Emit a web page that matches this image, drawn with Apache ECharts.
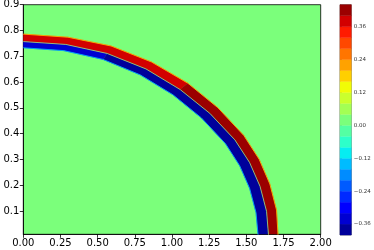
<!DOCTYPE html>
<html><head><meta charset="utf-8">
<script src="https://cdn.jsdelivr.net/npm/echarts@6/dist/echarts.min.js"></script>
<style>html,body{margin:0;padding:0;background:#fff}#c{width:374px;height:250px}</style>
</head><body><div id="c"></div>
<script>
// contour levels (filled bands between consecutive levels)
const levels = [-0.40,-0.36,-0.32,-0.28,-0.24,-0.20,-0.16,-0.12,-0.08,-0.04,0.00,0.04,0.08,0.12,0.16,0.20,0.24,0.28,0.32,0.36,0.40,0.44];
const yTicks = [0.1,0.2,0.3,0.4,0.5,0.6,0.7,0.8,0.9];
const cbarTicks = [-0.36,-0.24,-0.12,0.00,0.12,0.24,0.36];
const backgroundValue = 0.0;
// band edges, [x, y]
const outerEdge = [[0,0.786],[0.300,0.774],[0.590,0.740],[0.862,0.678],[1.106,0.596],[1.308,0.501],[1.483,0.393],[1.586,0.301],[1.658,0.205],[1.703,0.104],[1.714,0.0]];
const midEdge   = [[0,0.757],[0.286,0.746],[0.564,0.711],[0.825,0.651],[1.055,0.571],[1.254,0.479],[1.423,0.376],[1.522,0.288],[1.592,0.196],[1.636,0.099],[1.650,0.0]];
const innerEdge = [[0,0.733],[0.271,0.722],[0.536,0.688],[0.786,0.628],[1.006,0.551],[1.198,0.461],[1.360,0.361],[1.455,0.276],[1.522,0.188],[1.565,0.094],[1.580,0.0]];
// [from index, to index, field value]
const redSegments  = [[0,4,0.38],[4,10,0.42]];
const blueSegments = [[0,2,-0.34],[2,10,-0.38]];

const jetR=[[0,0],[0.35,0],[0.66,1],[0.89,1],[1,0.5]];
const jetG=[[0,0],[0.125,0],[0.375,1],[0.64,1],[0.91,0],[1,0]];
const jetB=[[0,0.5],[0.11,1],[0.34,1],[0.65,0],[1,0]];
function pw(p,t){for(let k=1;k<p.length;k++){if(t<=p[k][0]){const a=p[k-1],b=p[k];return a[1]+(b[1]-a[1])*(t-a[0])/(b[0]-a[0]);}}return p[p.length-1][1];}
function jet(t){return 'rgb('+[jetR,jetG,jetB].map(p=>Math.round(255*pw(p,t))).join(',')+')';}
const nb = levels.length-1;
function bandIndex(v){for(let i=0;i<nb;i++){if(v>=levels[i]-1e-9&&v<levels[i+1]-1e-9)return i;}return nb-1;}
function levelColor(v){return jet((bandIndex(v)+0.5)/nb);}

function bandRenderer(outer, inner, segs){
  return function(params, api){
    const s = segs[params.dataIndex];
    const pts=[];
    for(let k=s[0];k<=s[1];k++) pts.push(api.coord(outer[k]));
    for(let k=s[1];k>=s[0];k--) pts.push(api.coord(inner[k]));
    const c = levelColor(s[2]);
    return {type:'polygon', shape:{points:pts}, style:{fill:c, stroke:c, lineWidth:0.3}};
  };
}
const font='DejaVu Sans';
const chart = echarts.init(document.getElementById('c'), null, {renderer:'canvas'});
chart.setOption({
  animation:false,
  grid:[
    {left:23.3, top:4.7, width:297.4, height:229.6, containLabel:false, outerBoundsMode:'none', show:true, backgroundColor:levelColor(backgroundValue), borderColor:'#000', borderWidth:0.8},
    {left:340, top:4.7, width:11.3, height:230.3, containLabel:false, outerBoundsMode:'none', show:true, backgroundColor:'transparent', borderColor:'#444', borderWidth:0.7}
  ],
  xAxis:[
    {gridIndex:0, type:'value', min:0, max:2, interval:0.25,
     axisLine:{show:true, onZero:false, lineStyle:{color:'#000', width:0.8}},
     axisTick:{show:true, length:3.5, lineStyle:{color:'#000', width:0.8}},
     axisLabel:{interval:0, fontSize:10, fontFamily:font, color:'#000', margin:4, formatter:v=>v.toFixed(2)},
     splitLine:{show:false}},
    {gridIndex:1, type:'value', min:0, max:1, show:false}
  ],
  yAxis:[
    {gridIndex:0, type:'value', min:0.01, max:0.9,
     axisLine:{show:true, onZero:false, lineStyle:{color:'#000', width:0.8}},
     axisTick:{show:true, length:3.5, customValues:yTicks, lineStyle:{color:'#000', width:0.8}},
     axisLabel:{fontSize:10, fontFamily:font, color:'#000', margin:4, customValues:yTicks, formatter:v=>v.toFixed(1)},
     splitLine:{show:false}},
    {gridIndex:1, type:'value', min:-0.40, max:0.44, position:'right',
     axisLine:{show:false},
     axisTick:{show:true, length:2, customValues:cbarTicks, lineStyle:{color:'#333', width:0.6}},
     axisLabel:{fontSize:5.5, fontFamily:font, color:'#333', margin:2.5, customValues:cbarTicks,
       formatter:v=>(v<-1e-9?'\u2212':'')+Math.abs(v).toFixed(2)},
     splitLine:{show:false}}
  ],
  series:[
    {type:'custom', xAxisIndex:0, yAxisIndex:0, clip:true, silent:true,
     data:redSegments.map((s,i)=>[i]), renderItem:bandRenderer(outerEdge, midEdge, redSegments)},
    {type:'custom', xAxisIndex:0, yAxisIndex:0, clip:true, silent:true,
     data:blueSegments.map((s,i)=>[i]), renderItem:bandRenderer(midEdge, innerEdge, blueSegments)},
    {type:'line', xAxisIndex:0, yAxisIndex:0, data:outerEdge, symbol:'none', silent:true, clip:true,
     lineStyle:{color:'#ffb000', width:0.9}},
    {type:'line', xAxisIndex:0, yAxisIndex:0, data:midEdge, symbol:'none', silent:true, clip:true,
     lineStyle:{color:'#b0e070', width:0.8}},
    {type:'line', xAxisIndex:0, yAxisIndex:0, data:innerEdge, symbol:'none', silent:true, clip:true,
     lineStyle:{color:'#00a8ff', width:0.9}},
    {type:'custom', xAxisIndex:1, yAxisIndex:1, silent:true,
     data:levels.slice(0,-1).map((v,i)=>[i]),
     renderItem:function(params, api){
       const i=params.dataIndex;
       const lo=api.coord([0,levels[i]]), hi=api.coord([1,levels[i+1]]);
       const c=jet((i+0.5)/nb);
       return {type:'rect', shape:{x:lo[0], y:hi[1], width:hi[0]-lo[0], height:lo[1]-hi[1]}, style:{fill:c, stroke:c, lineWidth:0.4}};
     }}
  ]
});
</script></body></html>
